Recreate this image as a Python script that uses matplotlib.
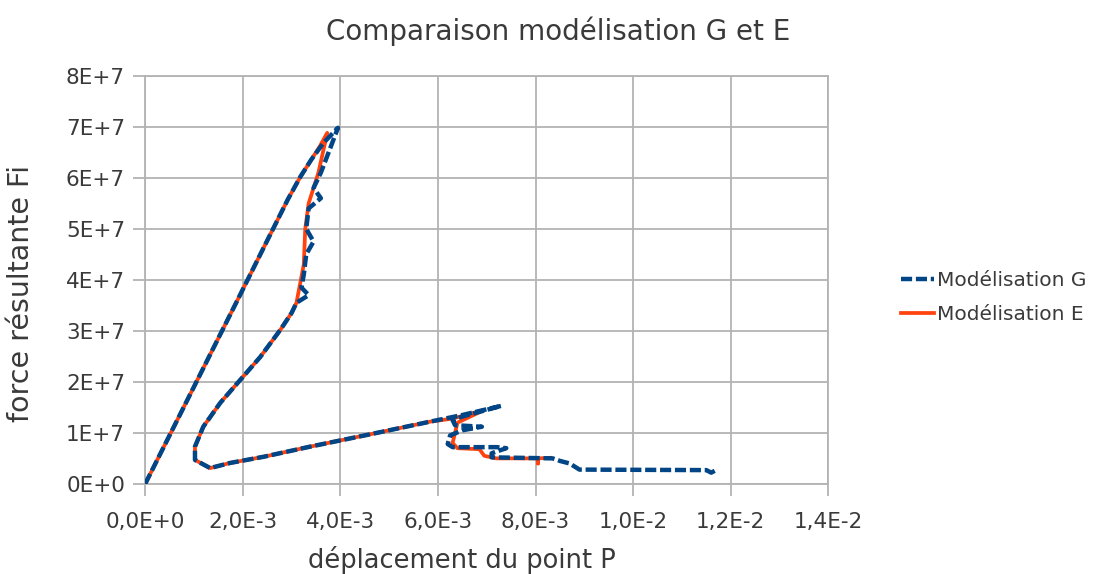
import matplotlib
matplotlib.use("Agg")
import matplotlib.pyplot as plt

plt.rcParams['font.family'] = ['DejaVu Sans']

title = "Comparaison modélisation G et E"
xlabel = "déplacement du point P"
ylabel = "force résultante Fi"
series_names = ["Modélisation G", "Modélisation E"]

x_ticks = [0.0, 2.0e-3, 4.0e-3, 6.0e-3, 8.0e-3, 1.0e-2, 1.2e-2, 1.4e-2]
x_tick_labels = ["0,0E+0", "2,0E-3", "4,0E-3", "6,0E-3", "8,0E-3", "1,0E-2", "1,2E-2", "1,4E-2"]
y_ticks = [0, 1e7, 2e7, 3e7, 4e7, 5e7, 6e7, 7e7, 8e7]
y_tick_labels = ["0E+0", "1E+7", "2E+7", "3E+7", "4E+7", "5E+7", "6E+7", "7E+7", "8E+7"]

# Modélisation G
g_x = [0.0, 0.73e-3, 1.89e-3, 2.48e-3, 2.92e-3, 3.18e-3, 3.40e-3, 3.65e-3, 3.95e-3,
       3.80e-3, 3.60e-3, 3.45e-3, 3.60e-3, 3.35e-3, 3.30e-3, 3.45e-3, 3.30e-3, 3.25e-3,
       3.20e-3, 3.35e-3, 3.10e-3, 3.00e-3, 2.77e-3, 2.36e-3, 1.95e-3, 1.54e-3, 1.19e-3,
       1.02e-3, 1.02e-3, 1.33e-3, 1.74e-3, 2.42e-3, 3.38e-3, 4.60e-3, 5.84e-3, 6.50e-3,
       7.30e-3, 6.50e-3, 6.30e-3, 6.35e-3, 6.90e-3, 6.50e-3, 6.25e-3, 6.20e-3, 6.30e-3,
       7.20e-3, 7.40e-3, 7.10e-3, 7.10e-3, 8.35e-3, 8.50e-3, 8.70e-3, 8.90e-3, 1.15e-2,
       1.16e-2, 1.17e-2]
g_y = [0.0, 1.39e7, 3.60e7, 4.73e7, 5.57e7, 6.02e7, 6.35e7, 6.68e7, 6.98e7,
       6.60e7, 6.10e7, 5.80e7, 5.60e7, 5.40e7, 5.00e7, 4.75e7, 4.50e7, 4.10e7,
       3.85e7, 3.70e7, 3.55e7, 3.35e7, 3.02e7, 2.49e7, 2.04e7, 1.59e7, 1.12e7,
       0.73e7, 0.47e7, 0.31e7, 0.41e7, 0.53e7, 0.73e7, 0.97e7, 1.22e7, 1.35e7,
       1.53e7, 1.32e7, 1.25e7, 1.15e7, 1.12e7, 1.05e7, 0.95e7, 0.78e7, 0.72e7,
       0.72e7, 0.70e7, 0.60e7, 0.52e7, 0.50e7, 0.45e7, 0.40e7, 0.28e7, 0.27e7,
       0.22e7, 0.27e7]

# Modélisation E
e_x = [0.0, 0.73e-3, 1.89e-3, 2.48e-3, 2.92e-3, 3.18e-3, 3.40e-3, 3.58e-3, 3.73e-3,
       3.55e-3, 3.35e-3, 3.28e-3, 3.25e-3, 3.15e-3, 3.10e-3, 3.00e-3, 2.77e-3, 2.36e-3,
       1.95e-3, 1.54e-3, 1.19e-3, 1.02e-3, 1.02e-3, 1.33e-3, 1.74e-3, 2.42e-3, 3.38e-3,
       4.60e-3, 5.84e-3, 6.30e-3, 6.95e-3, 6.40e-3, 6.35e-3, 6.30e-3, 6.40e-3, 6.85e-3,
       6.95e-3, 7.20e-3, 8.05e-3, 8.05e-3, 8.05e-3, 8.30e-3]
e_y = [0.0, 1.39e7, 3.60e7, 4.73e7, 5.57e7, 6.02e7, 6.35e7, 6.62e7, 6.88e7,
       6.10e7, 5.50e7, 5.00e7, 4.30e7, 3.80e7, 3.55e7, 3.35e7, 3.02e7, 2.49e7,
       2.04e7, 1.59e7, 1.12e7, 0.73e7, 0.47e7, 0.31e7, 0.41e7, 0.53e7, 0.73e7,
       0.97e7, 1.22e7, 1.28e7, 1.45e7, 1.20e7, 1.00e7, 0.80e7, 0.70e7, 0.68e7,
       0.55e7, 0.50e7, 0.50e7, 0.40e7, 0.50e7, 0.51e7]

text_color = "#3a3a3a"
grid_color = "#b3b3b3"

fig = plt.figure(figsize=(11.0, 5.74), dpi=100)
ax = fig.add_axes([0.132, 0.157, 0.621, 0.711])

ax.plot(e_x, e_y, color="#ff420e", lw=2.7, solid_joinstyle="round", label=series_names[1], zorder=3)
ax.plot(g_x, g_y, color="#004586", lw=3.2, dashes=(2.5, 0.85), dash_capstyle="butt",
        label=series_names[0], zorder=4)

ax.set_xlim(0, 1.4e-2)
ax.set_ylim(0, 8e7)
ax.set_xticks(x_ticks)
ax.set_xticklabels(x_tick_labels)
ax.set_yticks(y_ticks)
ax.set_yticklabels(y_tick_labels)
ax.grid(True, color=grid_color, lw=1.3)
ax.set_axisbelow(True)
for s in ax.spines.values():
    s.set_color(grid_color)
    s.set_linewidth(1.3)
ax.tick_params(axis="both", colors=grid_color, labelcolor=text_color, labelsize=15.5,
               length=8.5, width=1.3)
ax.tick_params(axis="y", pad=6)
ax.tick_params(axis="x", pad=12)

fig.text(0.507, 0.945, title, fontsize=20, color=text_color, ha="center", va="center")
fig.text(0.42, 0.024, xlabel, fontsize=18.5, color=text_color, ha="center", va="center")
fig.text(0.019, 0.488, ylabel, fontsize=20.5, color=text_color, ha="center", va="center",
         rotation=90)

handles, labels = ax.get_legend_handles_labels()
leg = fig.legend(handles[::-1], labels[::-1], loc="center left", bbox_to_anchor=(0.803, 0.481),
                 frameon=False, fontsize=14.5, handlelength=1.6, handletextpad=0.15,
                 labelspacing=0.75)
for t in leg.get_texts():
    t.set_color(text_color)

fig.savefig("out.png", dpi=100)
